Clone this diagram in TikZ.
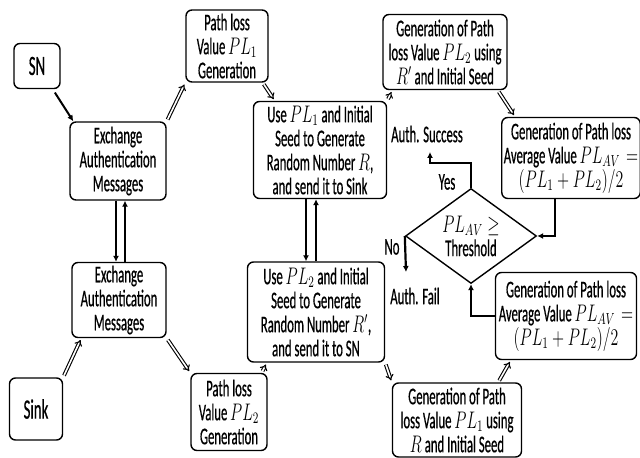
\documentclass[tikz,border=0pt]{standalone}
\usepackage{fontspec}
\setmainfont{Carlito}[FakeStretch=0.53, FakeBold=0.5]
\usepackage{graphicx}
\usetikzlibrary{arrows.meta,shapes.geometric}
\newcommand{\mq}[1]{\scalebox{0.66}[1]{$#1$}}
\begin{document}
\begin{tikzpicture}[x=0.5pt,y=-0.5pt,
  font=\fontsize{12}{12}\selectfont,
  box/.style={draw, line width=0.7pt, rounded corners=3pt, align=center, inner sep=1pt},
  dbl/.style={double, double distance=0.8pt, line width=0.55pt, -{Implies}, shorten <=1pt, shorten >=1pt},
  thk/.style={line width=1.1pt, -{Latex[length=3pt,width=3pt]}}]
\useasboundingbox (0,0) rectangle (640,458);
\node[box, minimum width=23pt, minimum height=22.5pt, font=\fontsize{14}{14}\selectfont] (sn) at (37,66){SN};
\node[box, minimum width=26.5pt, minimum height=31pt, font=\fontsize{14}{14}\selectfont] (sink) at (36,409){Sink};
\node[box, minimum width=48pt, minimum height=39pt] (exA) at (118,161){Exchange\\ Authentication\\ Messages};
\node[box, minimum width=47pt, minimum height=37.5pt] (exB) at (119,300){Exchange\\ Authentication\\ Messages};
\node[box, minimum width=41pt, minimum height=36pt] (plA) at (227,46){Path loss\\ Value \mq{PL_1}\\ Generation};
\node[box, minimum width=38pt, minimum height=38.5pt] (plB) at (229,412){Path loss\\ Value \mq{PL_2}\\ Generation};
\node[box, minimum width=66.5pt, minimum height=48.5pt] (useA) at (320,150){Use \mq{PL_1} and Initial\\ Seed to Generate\\ Random Number \mq{R},\\ and send it to Sink};
\node[box, minimum width=68.5pt, minimum height=50pt] (useB) at (316,312){Use \mq{PL_2} and Initial\\ Seed to Generate\\ Random Number \mq{R'},\\ and send it to SN};
\node[box, minimum width=62pt, minimum height=37.5pt] (genA) at (445,52){Generation of Path\\ loss Value \mq{PL_2}\ using\\ \mq{R'} and Initial Seed};
\node[box, minimum width=64.5pt, minimum height=37pt] (genB) at (457,420){Generation of Path\\ loss Value \mq{PL_1}\ using\\ \mq{R} and Initial Seed};
\node[box, minimum width=67pt, minimum height=40.5pt] (avgA) at (571,158){Generation of Path loss\\ Average Value \mq{PL_{AV}}\ \ \mq{=}\\ \mq{(PL_1+PL_2)/2}};
\node[box, minimum width=70.5pt, minimum height=43.5pt] (avgB) at (566,316){Generation of Path loss\\ Average Value \mq{PL_{AV}}\ \ \mq{=}\\ \mq{(PL_1+PL_2)/2}};
\node[diamond, draw, line width=0.7pt, aspect=1.4, inner sep=0pt, minimum width=65.5pt, minimum height=47.5pt, align=center] (dia) at (471,236){\mq{PL_{AV}\geq}\\ Threshold};
\node (succ) at (427,134){Auth. Success};
\node (fail) at (415,296){Auth. Fail};
\node (yes) at (447,182){Yes};
\node (no) at (392,247){No};
\coordinate (yesEnd) at (430,152);
\coordinate (noEnd) at (406,272);

% diagonal connectors
\draw[line width=1pt, -{Latex[length=3pt,width=3pt]}, shorten <=2pt] ([xshift=-4pt]sn.south east) -- ([xshift=2pt]exA.north west);
\draw[dbl] (exA.north east) -- (plA.south west);
\draw[dbl] ([xshift=-3pt]plA.south east) -- ([xshift=11pt]useA.north west);
\draw[dbl] (useA.north east) -- ([xshift=5pt]genA.south west);
\draw[dbl] ([xshift=-5pt]genA.south east) -- ([xshift=7pt]avgA.north west);
\draw[dbl] (sink.north east) -- ([xshift=5pt]exB.south west);
\draw[dbl] (exB.south east) -- (plB.north west);
\draw[dbl] ([xshift=-3pt]plB.north east) -- ([xshift=10pt]useB.south west);
\draw[dbl] (useB.south east) -- (genB.north west);
\draw[dbl] ([xshift=-12pt]genB.north east) -- ([xshift=8pt]avgB.south west);

% vertical pairs
\draw[thk] ([xshift=-1pt]exA.south) -- ([xshift=-1pt]exA.south |- exB.north);
\draw[thk] ([xshift=3.5pt]exA.south |- exB.north) -- ([xshift=3.5pt]exA.south);
\draw[thk] ([xshift=-7pt]useA.south) -- ([xshift=-7pt]useA.south |- useB.north);
\draw[thk] ([xshift=-2pt]useA.south |- useB.north) -- ([xshift=-2pt]useA.south);

% decision
\draw[thk] ([xshift=-8pt]avgA.south) |- (dia.east);
\draw[thk] (avgB.west) -| (dia.south);
\draw[thk] (dia.north) -- ++(0,-25) -| (yesEnd);
\draw[thk] (dia.west) -- (noEnd);
\end{tikzpicture}
\end{document}
